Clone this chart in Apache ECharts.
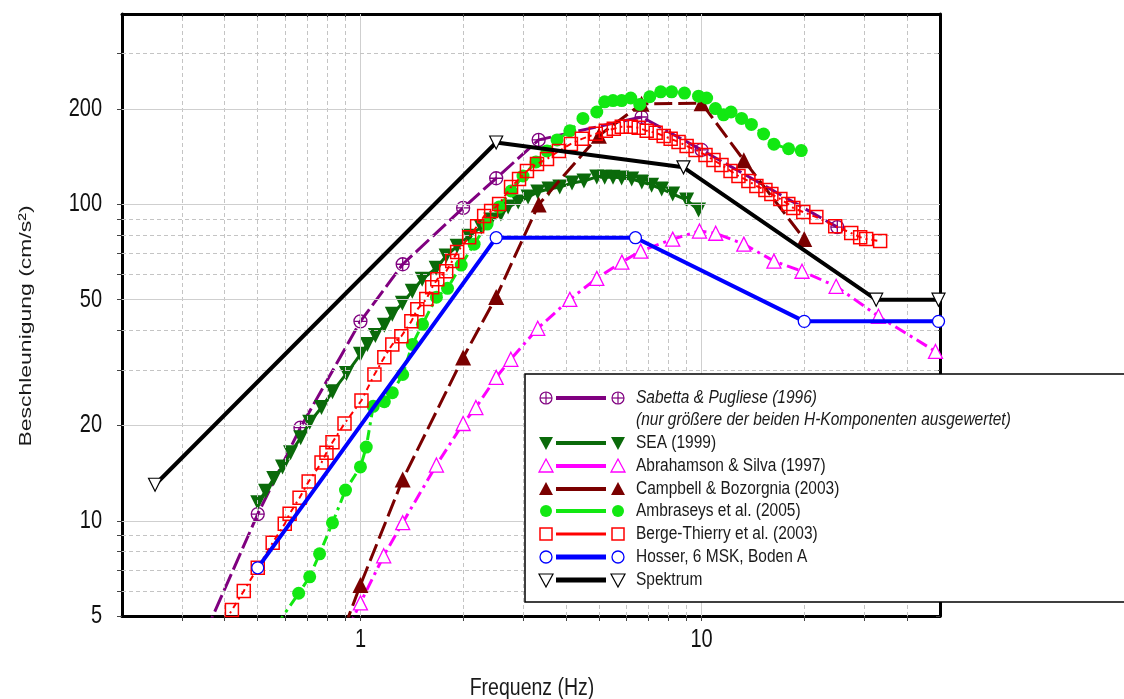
<!DOCTYPE html>
<html>
<head>
<meta charset="UTF-8"/>
<title>Beschleunigung</title>
<script src="https://cdn.jsdelivr.net/npm/echarts@6.0.0/dist/echarts.min.js"></script>
<style>
html,body{margin:0;padding:0;background:#fff;}
#main{width:1124px;height:699px;}
</style>
</head>
<body>
<div id="main"></div>
<script type="text/javascript">
// Werte (Frequenz in Hz, Beschleunigung in cm/s^2)
var seriesNames = ['Sabetta & Pugliese (1996)', 'SEA (1999)', 'Abrahamson & Silva (1997)',
  'Campbell & Bozorgnia (2003)', 'Ambraseys et al. (2005)', 'Berge-Thierry et al. (2003)',
  'Hosser, 6 MSK, Boden A', 'Spektrum'];

var sabettaF = [0.33, 0.5, 0.667, 1.0, 1.33, 2.0, 2.5, 3.33, 6.67, 10, 25];
var sabettaA = [3.8, 10.5, 19.7, 42.7, 64.7, 97.5, 121, 160, 189, 148.7, 84.8];

var seaF = [0.50, 0.527, 0.557, 0.591, 0.624, 0.668, 0.710, 0.769, 0.828, 0.910, 1.0, 1.048, 1.106, 1.175,
  1.24, 1.327, 1.419, 1.517, 1.667, 1.783, 1.92, 2.08, 2.26, 2.41, 2.58, 2.71, 2.90, 3.10, 3.31, 3.57,
  3.84, 4.17, 4.52, 4.93, 5.20, 5.50, 5.83, 6.24, 6.68, 7.14, 7.64, 8.23, 9.04, 9.80];
var seaA = [11.4, 12.4, 13.6, 14.8, 16.4, 18.3, 20.5, 22.8, 25.6, 29.2, 33.6, 36.1, 38.5, 41.5,
  45.0, 48.7, 53.2, 58.0, 62.9, 68.7, 73.8, 79.4, 84.8, 89.3, 93.3, 98.1, 101.8, 105.5, 109.5, 111.9,
  113.5, 116.9, 118.6, 122.2, 122, 122, 121.3, 120.3, 117.7, 115.1, 111.9, 107.9, 103.3, 96.0];

var abraF = [0.9, 1.0, 1.17, 1.33, 1.67, 2.0, 2.18, 2.5, 2.76, 3.31, 4.11, 4.93, 5.84, 6.63, 8.23,
  9.86, 11.0, 13.3, 16.3, 19.7, 24.8, 33.0, 48.5];
var abraA = [4.35, 5.5, 7.75, 9.86, 15.0, 20.3, 22.8, 28.4, 32.4, 40.6, 50.1, 58.4, 65.7, 71.2, 77.7,
  82.4, 81.1, 74.9, 66.2, 61.5, 55.1, 44.3, 34.3];

var campF = [0.8, 1.0, 1.33, 2.0, 2.5, 3.33, 5.0, 6.67, 10, 13.3, 20];
var campA = [3.3, 6.27, 13.5, 32.8, 51, 100, 165, 208, 209, 138, 77.7];

var ambrF = [0.57, 0.659, 0.710, 0.759, 0.828, 0.904, 1.0, 1.04, 1.09, 1.175, 1.24, 1.33, 1.42, 1.52,
  1.67, 1.80, 1.974, 2.154, 2.351, 2.55, 2.764, 2.996, 3.27, 3.523, 3.77, 4.11, 4.49, 4.93, 5.20, 5.50,
  5.83, 6.20, 6.59, 7.05, 7.59, 8.17, 8.91, 9.80, 10.35, 10.98, 11.6, 12.2, 13.1, 14.0, 15.2, 16.3, 18.0, 19.6];
var ambrA = [4.7, 5.9, 6.65, 7.86, 9.85, 12.5, 14.8, 17.1, 23.0, 23.8, 25.4, 29.0, 36.1, 41.8,
  50.9, 54.3, 64.3, 74.9, 86.7, 98.1, 110.3, 123.0, 136.3, 147.6, 160, 171, 187, 196, 211, 213,
  213, 217, 207, 219, 227, 227, 225, 220, 217, 201, 192, 196, 187, 179, 167, 155, 150, 148];

var bergeF = [0.40, 0.42, 0.455, 0.50, 0.553, 0.60, 0.62, 0.663, 0.705, 0.769, 0.795, 0.828, 0.898, 1.007,
  1.099, 1.175, 1.24, 1.318, 1.41, 1.468, 1.56, 1.623, 1.68, 1.784, 1.858, 1.921, 2.083, 2.198, 2.305,
  2.416, 2.55, 2.764, 2.917, 3.077, 3.293, 3.523, 3.818, 4.14, 4.458, 4.898, 5.24, 5.53, 5.836, 6.2,
  6.543, 6.905, 7.336, 7.743, 8.117, 8.563, 9.04, 9.605, 10.27, 10.84, 11.44, 12.16, 12.83, 13.72,
  14.48, 15.39, 16.02, 17.02, 17.96, 18.58, 19.87, 21.7, 24.65, 27.46, 29.17, 30.38, 33.38];
var bergeA = [4.8, 5.22, 6.0, 7.1, 8.52, 9.78, 10.52, 11.83, 13.3, 15.27, 16.4, 17.7, 20.3, 24.0,
  29.0, 32.9, 36.1, 38.3, 42.7, 46.6, 50.2, 54.7, 58.0, 61.5, 66.2, 70.7, 78.8, 85.4, 91.9,
  95.3, 100.3, 113.6, 120.4, 127.6, 134.3, 139.3, 147.6, 155.4, 161.2, 167.2, 170.9, 173.4, 176.0, 176.0,
  174.7, 170.9, 168.4, 164.7, 161.2, 157.6, 153.1, 148.7, 143.4, 138.2, 133.3, 127.6, 123.0, 118.6,
  114.4, 111.1, 107.9, 104.0, 100.3, 97.4, 94.6, 91.2, 85.4, 81.2, 78.8, 77.7, 76.6];

var hosserF = [0.5, 2.5, 6.4, 20, 49.5];
var hosserA = [7.1, 78.5, 78.5, 42.7, 42.7];

var spekF = [0.25, 2.5, 8.85, 32.5, 49.5];
var spekA = [13, 157, 131, 50, 50];

// Achsen
var xLabels = [1, 10];
var xTicks = [0.3, 0.4, 0.5, 0.6, 0.7, 0.8, 0.9, 1, 2, 3, 4, 5, 6, 7, 8, 9, 10, 20, 30, 40];
var xMajor = [1, 10];
var xMinor = [0.3, 0.4, 0.5, 0.6, 0.7, 0.8, 0.9, 2, 3, 4, 5, 6, 7, 8, 9, 20, 30, 40];
var yLabels = [5, 10, 20, 50, 100, 200];
var yTicks = [5, 6, 7, 8, 9, 10, 20, 30, 40, 50, 60, 70, 80, 90, 100, 200, 300];
var yMajor = [10, 20, 50, 100, 200];
var yMinor = [6, 7, 8, 9, 30, 40, 60, 70, 80, 90, 300];

function zip(f, a) {
  var out = [];
  for (var i = 0; i < f.length; i++) out.push([f[i], a[i]]);
  return out;
}

var FONT = "'Liberation Sans', Arial, sans-serif";
var circlePlus = 'path://M0,-10 A10,10 0 1,1 0,10 A10,10 0 1,1 0,-10 Z M-10,0 L10,0 M0,-10 L0,10';

var styles = [
  {c: '#800080', sym: circlePlus, size: 13, fill: 'transparent', bw: 1.3, lw: 3, dash: [18, 5]},
  {c: '#0a6a0a', sym: 'triangle', rot: 180, size: 15, fill: '#0a6a0a', bw: 0, lw: 3, dash: 'solid'},
  {c: '#ff00ff', sym: 'triangle', size: 14, fill: '#fff', bw: 1.3, lw: 3, dash: [12, 5, 3, 5]},
  {c: '#7a0000', sym: 'triangle', size: 16, fill: '#7a0000', bw: 0, lw: 3, dash: [18, 6]},
  {c: '#12e812', sym: 'circle', size: 13, fill: '#12e812', bw: 0, lw: 3, dash: [10, 5, 3, 5]},
  {c: '#ff0000', sym: 'rect', size: 13, fill: 'transparent', bw: 1.5, lw: 2, dash: [6, 4, 2, 4]},
  {c: '#0000ff', sym: 'circle', size: 12, fill: '#fff', bw: 1.3, lw: 4, dash: 'solid'},
  {c: '#000000', sym: 'triangle', rot: 180, size: 13, fill: '#fff', bw: 1.2, lw: 4, dash: 'solid'}
];
var seriesData = [zip(sabettaF, sabettaA), zip(seaF, seaA), zip(abraF, abraA), zip(campF, campA),
  zip(ambrF, ambrA), zip(bergeF, bergeA), zip(hosserF, hosserA), zip(spekF, spekA)];

var dashGrid = {color: '#c4c4c4', width: 1, type: [4, 3]};
var solidGrid = {color: '#cfcfcf', width: 1, type: 'solid'};
var gridLines = [];
xMinor.forEach(function (v) { gridLines.push({xAxis: v, lineStyle: dashGrid}); });
xMajor.forEach(function (v) { gridLines.push({xAxis: v, lineStyle: solidGrid}); });
yMinor.forEach(function (v) { gridLines.push({yAxis: v, lineStyle: dashGrid}); });
yMajor.forEach(function (v) { gridLines.push({yAxis: v, lineStyle: solidGrid}); });

var series = [{
  type: 'line', name: 'grid', data: [], z: 1, silent: true,
  markLine: {silent: true, symbol: ['none', 'none'], animation: false, label: {show: false},
    emphasis: {disabled: true}, data: gridLines}
}];
for (var i = 0; i < seriesNames.length; i++) {
  var s = styles[i];
  series.push({
    type: 'line', name: seriesNames[i], data: seriesData[i], z: 3 + i,
    symbol: s.sym, symbolSize: s.size, symbolRotate: s.rot || 0, showAllSymbol: true,
    lineStyle: {color: s.c, width: s.lw, type: s.dash},
    itemStyle: {color: s.fill, borderColor: s.c, borderWidth: s.bw},
    emphasis: {disabled: true}
  });
}

// Legende (eigene Zeichnung, Marker - Linie - Marker)
function marker(i, cx, cy) {
  var s = styles[i];
  var st = {fill: s.fill === 'transparent' ? '#fff' : s.fill, stroke: s.c, lineWidth: s.bw || 0};
  if (i === 0) {
    return [{type: 'circle', shape: {cx: cx, cy: cy, r: 6}, style: {fill: '#fff', stroke: s.c, lineWidth: 1.2}},
      {type: 'line', shape: {x1: cx - 6, y1: cy, x2: cx + 6, y2: cy}, style: {stroke: s.c, lineWidth: 1.2}},
      {type: 'line', shape: {x1: cx, y1: cy - 6, x2: cx, y2: cy + 6}, style: {stroke: s.c, lineWidth: 1.2}}];
  }
  if (s.sym === 'circle') return [{type: 'circle', shape: {cx: cx, cy: cy, r: 6}, style: st}];
  if (s.sym === 'rect') return [{type: 'rect', shape: {x: cx - 6, y: cy - 6, width: 12, height: 12}, style: st}];
  var pts = s.rot ? [[cx - 7, cy - 6], [cx + 7, cy - 6], [cx, cy + 7]] : [[cx - 7, cy + 6], [cx + 7, cy + 6], [cx, cy - 7]];
  return [{type: 'polygon', shape: {points: pts}, style: st}];
}

var legendRowsY = [398, 443, 466, 489, 511, 534, 557, 580];
var legendEls = [{type: 'rect', shape: {x: 525, y: 374, width: 640, height: 228},
  style: {fill: '#fff', stroke: '#000', lineWidth: 1.5}}];
for (var k = 0; k < seriesNames.length; k++) {
  var y = legendRowsY[k];
  var st2 = styles[k];
  legendEls.push({type: 'line', shape: {x1: 556, y1: y, x2: 606, y2: y},
    style: {stroke: st2.c, lineWidth: st2.lw + 1}});
  legendEls = legendEls.concat(marker(k, 546, y), marker(k, 618, y));
  legendEls.push({type: 'text', x: 636, y: y, scaleY: 1.22, style: {text: seriesNames[k], fill: '#1a1a1a',
    font: (k === 0 ? 'italic ' : '') + '15.5px ' + FONT, verticalAlign: 'middle'}});
}
legendEls.push({type: 'text', x: 636, y: 420, scaleY: 1.22, style: {text: '(nur größere der beiden H-Komponenten ausgewertet)',
  fill: '#1a1a1a', font: 'italic 15.5px ' + FONT, verticalAlign: 'middle'}});
legendEls.forEach(function (el) { el.z = 200; el.silent = true; });

// Achsentitel
var axisTitles = [
  {type: 'text', x: 532, y: 688, scaleY: 1.25, z: 200, silent: true,
    style: {text: 'Frequenz (Hz)', fill: '#1a1a1a', font: '19.5px ' + FONT, align: 'center', verticalAlign: 'middle'}},
  {type: 'text', x: 26, y: 326, rotation: Math.PI / 2, scaleX: 1.35, z: 200, silent: true,
    style: {text: 'Beschleunigung (cm/s²)', fill: '#1a1a1a', font: '17px ' + FONT, align: 'center', verticalAlign: 'middle'}}
];

var frame = {show: true, lineStyle: {color: '#000', width: 3}};
var myChart = echarts.init(document.getElementById('main'));
var option = {
  animation: false,
  backgroundColor: '#fff',
  textStyle: {fontFamily: FONT},
  grid: {left: 122, right: 184, top: 14, bottom: 83},
  xAxis: [{
    type: 'log', logBase: 10, min: 0.2, max: 50,
    axisLine: frame,
    axisTick: {show: true, length: 5, customValues: xTicks, lineStyle: {color: '#444'}},
    axisLabel: {show: false},
    splitLine: {show: false}, minorTick: {show: false}
  }, {
    type: 'log', logBase: 10, min: 0.2, max: 50, position: 'top',
    axisLine: frame,
    axisTick: {show: true, inside: true, length: 4, customValues: xTicks, lineStyle: {color: '#444'}},
    axisLabel: {show: false}, splitLine: {show: false}
  }],
  yAxis: [{
    type: 'log', logBase: 10, min: 5, max: 400,
    axisLine: frame,
    axisTick: {show: true, length: 5, customValues: yTicks, lineStyle: {color: '#444'}},
    axisLabel: {show: false},
    splitLine: {show: false}
  }, {
    type: 'log', logBase: 10, min: 5, max: 400, position: 'right',
    axisLine: frame,
    axisTick: {show: true, inside: true, length: 4, customValues: yTicks, lineStyle: {color: '#444'}},
    axisLabel: {show: false}, splitLine: {show: false}
  }],
  series: series
};
myChart.setOption(option);

// Achsenbeschriftung: Position über die Achsen der Bibliothek, Schrift etwas gestreckt wie im Original
var tickTexts = [];
yLabels.forEach(function (v) {
  var py = myChart.convertToPixel({yAxisIndex: 0}, v);
  tickTexts.push({type: 'text', x: 102, y: py, scaleY: 1.25, z: 200, silent: true,
    style: {text: String(v), fill: '#111', font: '20px ' + FONT, align: 'right', verticalAlign: 'middle'}});
});
xLabels.forEach(function (v) {
  var px = myChart.convertToPixel({xAxisIndex: 0}, v);
  tickTexts.push({type: 'text', x: px, y: 640, scaleY: 1.25, z: 200, silent: true,
    style: {text: String(v), fill: '#111', font: '20px ' + FONT, align: 'center', verticalAlign: 'middle'}});
});
myChart.setOption({graphic: legendEls.concat(axisTitles, tickTexts)});
</script>
</body>
</html>
